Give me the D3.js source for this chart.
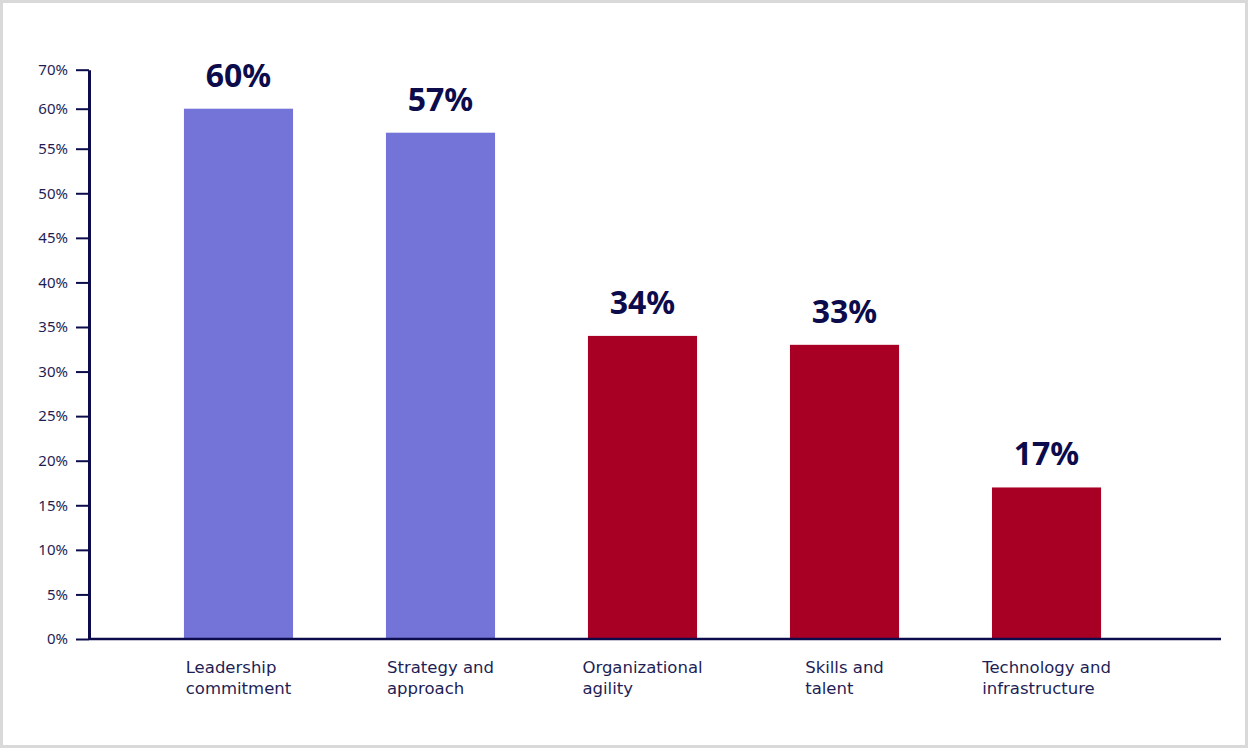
<!DOCTYPE html>
<html>
<head>
<meta charset="utf-8">
<script src="https://cdn.jsdelivr.net/npm/d3@7"></script>
<style>
  body { margin: 0; background: #fff; }
  svg { display: block; font-family: "Noto Sans", sans-serif; }
</style>
</head>
<body>
<script>
// chart.js

const width = 1248;
const height = 748;

// Data
const categories = [
  "Leadership commitment",
  "Strategy and approach",
  "Organizational agility",
  "Skills and talent",
  "Technology and infrastructure"
];
const categoryLines = [
  ["Leadership", "commitment"],
  ["Strategy and", "approach"],
  ["Organizational", "agility"],
  ["Skills and", "talent"],
  ["Technology and", "infrastructure"]
];
const values = [60, 57, 34, 33, 17];
const tickValues = [0, 5, 10, 15, 20, 25, 30, 35, 40, 45, 50, 55, 60, 70];

const navy = "#0c0c4c";
const textNavy = "#1e1e55";

const svg = d3.select("body").append("svg")
  .attr("width", width)
  .attr("height", height);

// light grey frame round the picture
svg.append("rect")
  .attr("x", 1.5)
  .attr("y", 1.5)
  .attr("width", width - 3)
  .attr("height", height - 3)
  .attr("fill", "#fff")
  .attr("stroke", "#d9d9d9")
  .attr("stroke-width", 3);

// The source axis is squeezed above 55%, so use a piecewise linear scale
const y = d3.scaleLinear()
  .domain([0, 55, 60, 70])
  .range([639, 148.7, 108.7, 69.7]);

const x = d3.scaleBand()
  .domain(categories)
  .range([89, 1196])
  .paddingInner(0.46)
  .paddingOuter(0.47);

const color = d3.scaleOrdinal()
  .domain(categories)
  .range(["#7474d8", "#7474d8", "#a80024", "#a80024", "#a80024"]);

// Bars
svg.append("g")
  .selectAll("rect")
  .data(values)
  .enter().append("rect")
  .attr("x", (d, i) => x(categories[i]))
  .attr("y", d => y(d))
  .attr("width", x.bandwidth())
  .attr("height", d => y(0) - y(d))
  .attr("fill", (d, i) => color(categories[i]));

// Value labels above bars
svg.append("g")
  .selectAll("text")
  .data(values)
  .enter().append("text")
  .attr("x", (d, i) => x(categories[i]) + x.bandwidth() / 2)
  .attr("y", d => y(d) - 22)
  .attr("text-anchor", "middle")
  .attr("fill", navy)
  .style("font-size", "32px")
  .style("font-weight", 700)
  .text(d => d + "%");

// Y axis
const yAxis = svg.append("g")
  .attr("transform", "translate(89,0)")
  .call(d3.axisLeft(y)
    .tickValues(tickValues)
    .tickFormat(d => d + "%")
    .tickSize(13)
    .tickSizeOuter(0)
    .tickPadding(8));

yAxis.select(".domain")
  .attr("stroke", navy)
  .attr("stroke-width", 3);
yAxis.selectAll(".tick line")
  .attr("stroke", navy)
  .attr("stroke-width", 2);
yAxis.selectAll(".tick text")
  .attr("fill", textNavy)
  .style("font-size", "15px")
  .style("font-family", "'Noto Sans', sans-serif");

// X axis baseline
svg.append("line")
  .attr("x1", 89)
  .attr("x2", 1221)
  .attr("y1", y(0))
  .attr("y2", y(0))
  .attr("stroke", navy)
  .attr("stroke-width", 2.5);

// Category labels: left-aligned block, centred under each bar
const labels = svg.append("g")
  .selectAll("text")
  .data(categories)
  .enter().append("text")
  .attr("fill", textNavy)
  .style("font-family", "'DejaVu Sans', sans-serif")
  .style("font-size", "16.5px");

labels.each(function(d, i) {
  const t = d3.select(this);
  categoryLines[i].forEach((line, j) => {
    t.append("tspan")
      .attr("y", 673 + j * 21)
      .text(line);
  });
  let maxW = 0;
  t.selectAll("tspan").each(function() {
    maxW = Math.max(maxW, this.getComputedTextLength());
  });
  const left = x(d) + x.bandwidth() / 2 - maxW / 2;
  t.selectAll("tspan").attr("x", left);
});
</script>
</body>
</html>
